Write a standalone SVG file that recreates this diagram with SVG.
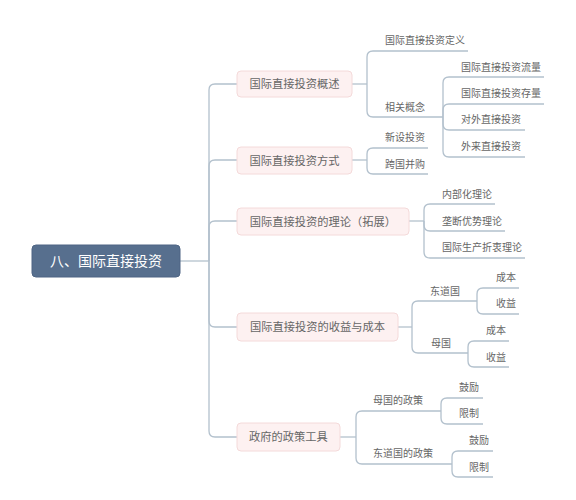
<svg xmlns="http://www.w3.org/2000/svg" width="576" height="500" viewBox="0 0 576 500">
<style>
text{font-family:"Noto Sans CJK SC","Noto Sans",sans-serif;fill:#666}
.root{fill:#576f8e;stroke:#4e6584;stroke-width:1}
.root-t{fill:#fff;font-size:14px}
.l1{fill:#fdf1f1;stroke:#f4dada;stroke-width:1}
.l1-t{font-size:11.25px}
.leaf{font-size:10px}
.c{fill:none;stroke:#b3c1cd;stroke-width:1.3}
</style>
<rect width="576" height="500" fill="#fff"/>
<g id="connectors">
<path class="c" d="M180,261 H209"/>
<path class="c" d="M209,261 V90 Q209,84 215,84 H237"/>
<path class="c" d="M209,261 V166 Q209,160 215,160 H237"/>
<path class="c" d="M209,261 V227 Q209,221 215,221 H237"/>
<path class="c" d="M209,261 V321 Q209,327 215,327 H237"/>
<path class="c" d="M209,261 V431 Q209,437 215,437 H237"/>
<path class="c" d="M352,84 H367"/>
<path class="c" d="M367,84 V57 Q367,51 373,51 H468"/>
<path class="c" d="M367,84 V111 Q367,117 373,117 H443"/>
<path class="c" d="M443,117 V83 Q443,77 449,77 H544"/>
<path class="c" d="M443,117 V110 Q443,104 449,104 H544"/>
<path class="c" d="M443,117 V124 Q443,130 449,130 H525"/>
<path class="c" d="M443,117 V151 Q443,157 449,157 H525"/>
<path class="c" d="M352,160 H367"/>
<path class="c" d="M367,160 V154 Q367,148 373,148 H428"/>
<path class="c" d="M367,160 V168 Q367,174 373,174 H428"/>
<path class="c" d="M409,221 H424"/>
<path class="c" d="M424,221 V210 Q424,204 430,204 H495"/>
<path class="c" d="M424,221 V225 Q424,231 430,231 H505"/>
<path class="c" d="M424,221 V252 Q424,258 430,258 H525"/>
<path class="c" d="M398,327 H412"/>
<path class="c" d="M412,327 V307 Q412,301 418,301 H477"/>
<path class="c" d="M412,327 V347 Q412,353 418,353 H468"/>
<path class="c" d="M477,301 V294 Q477,288 483,288 H519"/>
<path class="c" d="M477,301 V308 Q477,314 483,314 H519"/>
<path class="c" d="M468,353 V347 Q468,341 474,341 H509"/>
<path class="c" d="M468,353 V361 Q468,367 474,367 H509"/>
<path class="c" d="M340,437 H356"/>
<path class="c" d="M356,437 V417 Q356,411 362,411 H441"/>
<path class="c" d="M356,437 V458 Q356,464 362,464 H452"/>
<path class="c" d="M441,411 V404 Q441,398 447,398 H483"/>
<path class="c" d="M441,411 V418 Q441,424 447,424 H483"/>
<path class="c" d="M452,464 V457 Q452,451 458,451 H493"/>
<path class="c" d="M452,464 V471 Q452,477 458,477 H493"/>
</g>
<g id="root"><rect class="root" x="32" y="245" width="148" height="32" rx="4"/><text class="root-t" x="106" y="266" text-anchor="middle">八、国际直接投资</text></g>
<g id="n1"><rect class="l1" x="237" y="71" width="115" height="26" rx="4"/><text class="l1-t" x="294.5" y="88" text-anchor="middle">国际直接投资概述</text></g>
<g id="n2"><rect class="l1" x="237" y="147" width="115" height="27" rx="4"/><text class="l1-t" x="294.5" y="164.5" text-anchor="middle">国际直接投资方式</text></g>
<g id="n3"><rect class="l1" x="237" y="208" width="172" height="27" rx="4"/><text class="l1-t" x="323" y="225.5" text-anchor="middle">国际直接投资的理论（拓展）</text></g>
<g id="n4"><rect class="l1" x="237" y="313" width="161" height="28" rx="4"/><text class="l1-t" x="317.5" y="331" text-anchor="middle">国际直接投资的收益与成本</text></g>
<g id="n5"><rect class="l1" x="237" y="423" width="103" height="28" rx="4"/><text class="l1-t" x="288.5" y="441" text-anchor="middle">政府的政策工具</text></g>
<g id="n1a"><text class="leaf" x="385" y="44">国际直接投资定义</text></g>
<g id="n1b"><text class="leaf" x="385" y="111">相关概念</text></g>
<g id="n1b1"><text class="leaf" x="461" y="71">国际直接投资流量</text></g>
<g id="n1b2"><text class="leaf" x="461" y="97">国际直接投资存量</text></g>
<g id="n1b3"><text class="leaf" x="461" y="123">对外直接投资</text></g>
<g id="n1b4"><text class="leaf" x="461" y="150">外来直接投资</text></g>
<g id="n2a"><text class="leaf" x="385" y="141">新设投资</text></g>
<g id="n2b"><text class="leaf" x="385" y="168">跨国并购</text></g>
<g id="n3a"><text class="leaf" x="442" y="198">内部化理论</text></g>
<g id="n3b"><text class="leaf" x="442" y="225">垄断优势理论</text></g>
<g id="n3c"><text class="leaf" x="442" y="251">国际生产折衷理论</text></g>
<g id="n4a"><text class="leaf" x="430" y="295">东道国</text></g>
<g id="n4a1"><text class="leaf" x="496" y="281">成本</text></g>
<g id="n4a2"><text class="leaf" x="496" y="307">收益</text></g>
<g id="n4b"><text class="leaf" x="431" y="347">母国</text></g>
<g id="n4b1"><text class="leaf" x="486" y="334">成本</text></g>
<g id="n4b2"><text class="leaf" x="486" y="361">收益</text></g>
<g id="n5a"><text class="leaf" x="373" y="404">母国的政策</text></g>
<g id="n5a1"><text class="leaf" x="459" y="391">鼓励</text></g>
<g id="n5a2"><text class="leaf" x="459" y="417">限制</text></g>
<g id="n5b"><text class="leaf" x="373" y="457">东道国的政策</text></g>
<g id="n5b1"><text class="leaf" x="469" y="444">鼓励</text></g>
<g id="n5b2"><text class="leaf" x="469" y="471">限制</text></g>
</svg>
